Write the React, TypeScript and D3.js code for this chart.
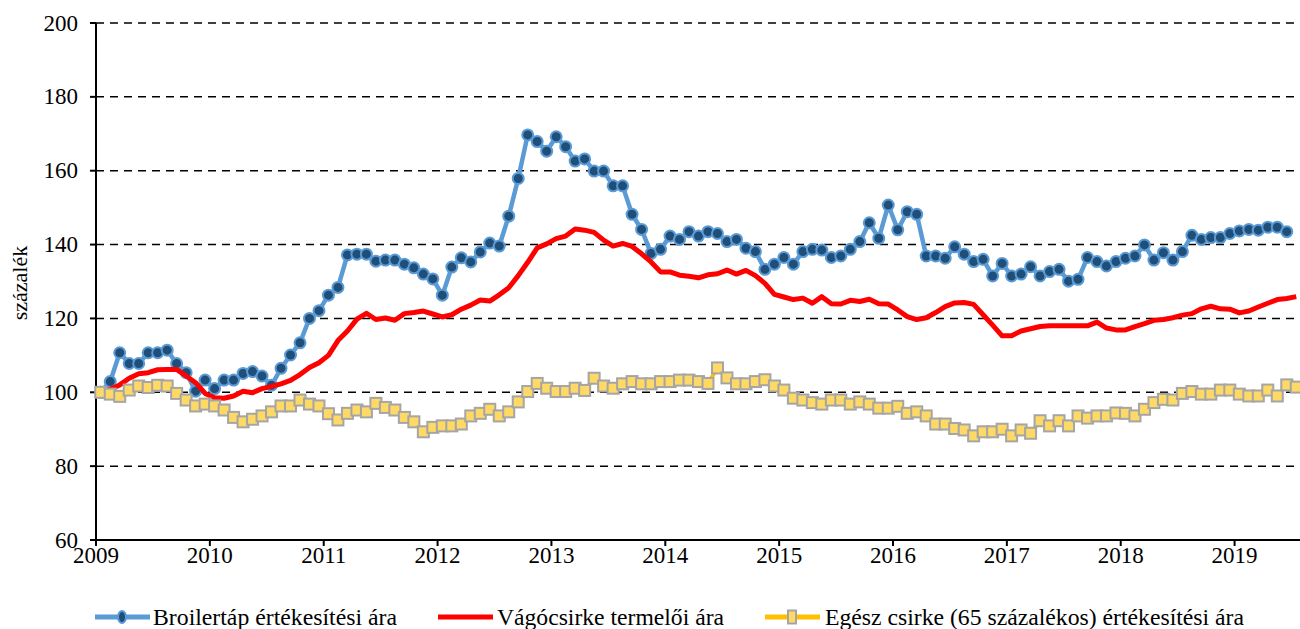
import React from "react";
import { scaleBand, scaleLinear, line, range } from "d3";

// monthly index, Jan 2009 .. Jul 2019
const years = range(2009, 2020);
const months = range(0, 127);

// Broilertáp értékesítési ára (Jan 2009 .. Jun 2019)
const broilerTap = [
  100, 102.9, 110.7, 107.8, 107.8, 110.7, 110.7, 111.4, 107.8, 105.3, 100.3, 103.3,
  101.0, 103.3, 103.3, 105.1, 105.6, 104.4, 101.9, 106.5, 110.1, 113.4, 120.0, 122.1,
  126.3, 128.4, 137.2, 137.4, 137.4, 135.5, 135.8, 135.8, 134.7, 133.7, 132.0, 130.7,
  126.3, 133.9, 136.4, 135.3, 138.0, 140.4, 139.6, 147.7, 157.9, 169.7, 167.9, 165.3,
  169.2, 166.5, 162.6, 163.2, 159.9, 159.9, 155.9, 155.9, 148.2, 144.1, 137.6, 138.7,
  142.3, 141.4, 143.5, 142.3, 143.5, 143.0, 140.8, 141.4, 139.0, 138.1, 133.3, 134.7,
  136.5, 134.7, 138.1, 138.7, 138.5, 136.5, 136.9, 138.7, 140.8, 145.9, 141.7, 150.7,
  144.0, 148.9, 148.2, 136.9, 136.9, 136.3, 139.4, 137.4, 135.4, 136.0, 131.5, 134.9,
  131.5, 132.0, 134.0, 131.5, 132.7, 133.3, 130.1, 130.6, 136.5, 135.4, 134.2, 135.4,
  136.3, 136.9, 139.9, 135.8, 137.8, 135.8, 138.1, 142.5, 141.4, 141.9, 141.9, 143.0,
  143.7, 144.1, 143.9, 144.7, 144.7, 143.5,
];

// Vágócsirke termelői ára
const vagocsirke = [
  100, 100.8, 102.0, 103.8, 105.0, 105.3, 106.1, 106.2, 106.2, 104.4, 102.6, 99.7,
  98.5, 98.4, 99.0, 100.3, 99.9, 101.0, 101.6, 102.3, 103.2, 104.8, 106.7, 108.0,
  110.0, 114.0, 116.6, 119.8, 121.4, 119.7, 120.1, 119.5, 121.3, 121.6, 122.0, 121.2,
  120.4, 121.0, 122.5, 123.6, 125.0, 124.7, 126.4, 128.3, 131.6, 135.2, 139.1, 140.2,
  141.6, 142.3, 144.2, 143.9, 143.3, 141.2, 139.6, 140.3, 139.5, 137.5, 135.3, 132.6,
  132.6, 131.7, 131.4, 131.0, 131.8, 132.1, 133.1, 132.0, 133.0, 131.6, 129.5, 126.5,
  125.8, 125.1, 125.5, 124.1, 125.9, 124.0, 123.9, 124.9, 124.6, 125.2, 124.0, 123.9,
  122.3, 120.5, 119.7, 120.2, 121.6, 123.2, 124.2, 124.3, 123.8, 121.0, 118.2, 115.3,
  115.3, 116.6, 117.2, 117.8, 118.0, 118.0, 118.0, 118.0, 118.0, 119.0, 117.4, 116.9,
  116.9, 117.8, 118.6, 119.5, 119.7, 120.2, 120.9, 121.3, 122.6, 123.3, 122.6, 122.5,
  121.5, 122.0, 123.1, 124.1, 125.1, 125.4, 125.9,
];

// Egész csirke (65 százalékos) értékesítési ára
const egeszCsirke = [
  100, 99.5, 98.9, 100.6, 101.7, 101.3, 101.9, 101.7, 99.7, 97.9, 96.3, 96.8,
  96.3, 95.2, 93.2, 92.0, 92.7, 93.6, 94.7, 96.3, 96.3, 97.9, 96.8, 96.3,
  94.2, 92.5, 94.3, 95.2, 94.7, 97.0, 95.9, 95.2, 93.2, 92.0, 89.3, 90.5,
  90.9, 90.9, 91.4, 93.6, 94.3, 95.4, 93.6, 94.7, 97.4, 100.2, 102.4, 101.1,
  100.2, 100.2, 101.1, 100.5, 103.8, 101.7, 101.1, 102.3, 102.9, 102.3, 102.3, 102.9,
  102.9, 103.3, 103.3, 102.9, 102.4, 106.6, 103.9, 102.3, 102.3, 102.9, 103.4, 101.7,
  100.6, 98.4, 97.9, 97.2, 96.8, 97.9, 97.9, 96.8, 97.4, 96.8, 95.7, 95.7,
  96.2, 94.3, 94.7, 93.6, 91.4, 91.4, 90.2, 89.8, 88.2, 89.3, 89.3, 90.0,
  88.2, 89.8, 88.9, 92.3, 90.9, 92.3, 90.9, 93.6, 93.0, 93.6, 93.6, 94.4,
  94.3, 93.6, 95.4, 97.2, 98.1, 97.9, 99.7, 100.2, 99.5, 99.5, 100.6, 100.6,
  99.5, 99.0, 99.0, 100.6, 99.0, 102.0, 101.4,
];

const yTicks = [60, 80, 100, 120, 140, 160, 180, 200];

const legendItems = [
  "Broilertáp értékesítési ára",
  "Vágócsirke termelői ára",
  "Egész csirke (65 százalékos) értékesítési ára",
];

const FONT = "'Liberation Serif', 'Times New Roman', serif";

export default function App() {
  const width = 1300;
  const height = 629;
  const left = 96;
  const right = 1301;
  const top = 23;
  const bottom = 540;

  const x = scaleBand<number>().domain(months).range([left, right]);
  const cx = (i: number) => (x(i) as number) + x.bandwidth() / 2;
  const y = scaleLinear().domain([60, 200]).range([bottom, top]);

  const path = line<number>()
    .x((_, i) => cx(i))
    .y((d) => y(d));

  return (
    <svg width={width} height={height} style={{ position: "absolute", left: 0, top: 0 }}>
      <rect width={width} height={height} fill="#fff" />

      {/* grid */}
      {yTicks
        .filter((t) => t > 60)
        .map((t) => (
          <line
            key={`g${t}`}
            x1={left}
            x2={width}
            y1={y(t)}
            y2={y(t)}
            stroke="#000"
            strokeWidth={1.5}
            strokeDasharray="8,6"
          />
        ))}

      {/* y axis */}
      <line x1={left} x2={left} y1={top} y2={bottom + 6} stroke="#000" strokeWidth={2} />
      {yTicks.map((t) => (
        <g key={`y${t}`}>
          <line x1={left - 6} x2={left} y1={y(t)} y2={y(t)} stroke="#000" strokeWidth={2} />
          <text
            x={78}
            y={y(t) + 7.5}
            textAnchor="end"
            fontFamily={FONT}
            fontSize={23}
            fill="#000"
          >
            {t}
          </text>
        </g>
      ))}
      <text
        transform={`translate(27, 283) rotate(-90)`}
        textAnchor="middle"
        fontFamily={FONT}
        fontSize={22}
        fill="#000"
      >
        százalék
      </text>

      {/* x axis */}
      <line x1={left} x2={width} y1={bottom} y2={bottom} stroke="#000" strokeWidth={2} />
      {years.map((yr, k) => {
        const xp = x(k * 12) as number;
        return (
          <g key={`x${yr}`}>
            <line x1={xp} x2={xp} y1={bottom} y2={bottom + 6} stroke="#000" strokeWidth={2} />
            <text
              x={xp}
              y={bottom + 23}
              textAnchor="middle"
              fontFamily={FONT}
              fontSize={23}
              fill="#000"
            >
              {yr}
            </text>
          </g>
        );
      })}

      {/* Broilertáp */}
      <path d={path(broilerTap) || ""} fill="none" stroke="#5B9BD5" strokeWidth={4.5} strokeLinejoin="round" />
      {broilerTap.map((d, i) => (
        <circle key={`b${i}`} cx={cx(i)} cy={y(d)} r={5.5} fill="#1F4E79" stroke="#5B9BD5" strokeWidth={2} />
      ))}

      {/* Vágócsirke */}
      <path d={path(vagocsirke) || ""} fill="none" stroke="#FF0000" strokeWidth={5} strokeLinejoin="round" />

      {/* Egész csirke */}
      <path d={path(egeszCsirke) || ""} fill="none" stroke="#FFC000" strokeWidth={4} strokeLinejoin="round" />
      {egeszCsirke.map((d, i) => (
        <rect
          key={`e${i}`}
          x={cx(i) - 5.5}
          y={y(d) - 5.5}
          width={11}
          height={11}
          fill="#FFD966"
          stroke="#A5A5A5"
          strokeWidth={2}
        />
      ))}

      {/* legend */}
      <g>
        <line x1={95} x2={150} y1={617} y2={617} stroke="#5B9BD5" strokeWidth={5} />
        <ellipse cx={122} cy={617} rx={4} ry={6} fill="#1F4E79" stroke="#5B9BD5" strokeWidth={2} />
        <text x={153} y={625} fontFamily={FONT} fontSize={24} textLength={244} lengthAdjust="spacingAndGlyphs">
          {legendItems[0]}
        </text>

        <line x1={438} x2={493} y1={617} y2={617} stroke="#FF0000" strokeWidth={5} />
        <text x={497} y={625} fontFamily={FONT} fontSize={24} textLength={227} lengthAdjust="spacingAndGlyphs">
          {legendItems[1]}
        </text>

        <line x1={765} x2={820} y1={617} y2={617} stroke="#FFC000" strokeWidth={5} />
        <rect x={788} y={610.5} width={8} height={13} fill="#FFD966" stroke="#A5A5A5" strokeWidth={2} />
        <text x={825} y={625} fontFamily={FONT} fontSize={24} textLength={419} lengthAdjust="spacingAndGlyphs">
          {legendItems[2]}
        </text>
      </g>
    </svg>
  );
}
